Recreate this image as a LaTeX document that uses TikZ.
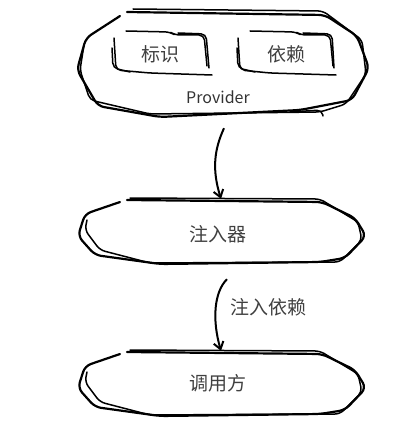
\documentclass[tikz,border=0pt]{standalone}
\usepackage{fontspec}
\newfontfamily\cjk{Noto Sans CJK SC}
\usetikzlibrary{arrows.meta,calc}
\tikzset{
  sk/.style={line width=2.2pt, rounded corners=6pt, line join=round, line cap=round},
  skthin/.style={line width=1.5pt, rounded corners=5pt, line join=round, line cap=round},
  lbl/.style={font=\cjk\fontsize{19}{19}\selectfont, text=black!75},
  conn/.style={line width=2pt, -{Straight Barb[length=7pt,width=10pt,line width=2pt]}},
  hole/.style={draw=none, inner sep=0pt}
}
\begin{document}
\begin{tikzpicture}[x=1pt,y=-1pt]
\useasboundingbox (0,0) rectangle (416,433);
% ---------- Provider ----------
\node[hole, minimum width=290pt, minimum height=110pt] (prov) at (222,63) {};
\draw[sk] (127,12) -- (325,15) -- (357,36) -- (369,68) -- (352,100) -- (300,110) -- (160,117) -- (98,106) -- (77,70) -- (86,38) -- (120,16);
\draw[skthin] (133,9) -- (323,11) -- (362,40) -- (366,74) -- (346,104) -- (320,112) -- (150,114) -- (90,100) -- (80,70) -- (84,45);
\draw[skthin] (290,112) -- (322,110) -- (323,116);
\node[lbl] (bs) at (160,54) {标识};
\node[lbl] (yl) at (286,54) {依赖};
\node[font=\cjk\fontsize{16}{16}\selectfont, text=black!80] (pv) at (218,97) {Provider};
% box 标识
\draw[skthin] (126,31) -- (170,32) -- (175,35) -- (204,35) -- (207,66);
\draw[skthin] (178,33) -- (206,34) -- (209,68);
\draw[skthin] (114,38) -- (116,70) -- (150,73) -- (212,75);
\draw[skthin] (112,48) -- (113,68) -- (130,72);
% box 依赖
\draw[skthin] (250,31) -- (296,32) -- (301,35) -- (330,35) -- (333,66);
\draw[skthin] (303,33) -- (332,34) -- (334,68);
\draw[skthin] (238,38) -- (240,70) -- (270,73) -- (336,75);
\draw[skthin] (237,48) -- (238,68) -- (255,72);
% ---------- 注入器 ----------
\node[hole, minimum width=290pt, minimum height=66pt] (inj) at (221,232) {};
\draw[sk] (127,200) -- (322,202) -- (355,218) -- (366,236) -- (345,258) -- (320,262) -- (160,264) -- (95,255) -- (78,236) -- (85,214) -- (120,202);
\draw[skthin] (130,198) -- (320,199) -- (358,222) -- (362,240) -- (340,262) -- (320,262) -- (150,263) -- (100,250) -- (85,230) -- (87,220);
\node[lbl] (zrq) at (218,234) {注入器};
% ---------- 调用方 ----------
\node[hole, minimum width=290pt, minimum height=66pt] (dyf) at (221,384) {};
\draw[sk] (127,352) -- (322,354) -- (355,370) -- (366,388) -- (345,410) -- (320,414) -- (160,416) -- (95,407) -- (78,388) -- (85,366) -- (120,354);
\draw[skthin] (130,350) -- (320,351) -- (358,374) -- (362,392) -- (340,414) -- (320,414) -- (150,415) -- (100,402) -- (85,382) -- (87,372);
\node[lbl] (dy) at (218,383) {调用方};
% ---------- connectors ----------
\draw[conn] (prov.south) ++(2,10) coordinate (a1) (a1) .. controls (214,150) and (212,170) .. (inj.north);
\draw[conn] (inj.south) ++(6,14) coordinate (a2) (a2) .. controls (214,292) and (212,320) .. (dyf.north);
\node[lbl] (zryl) at (268,307) {注入依赖};
\end{tikzpicture}
\end{document}
